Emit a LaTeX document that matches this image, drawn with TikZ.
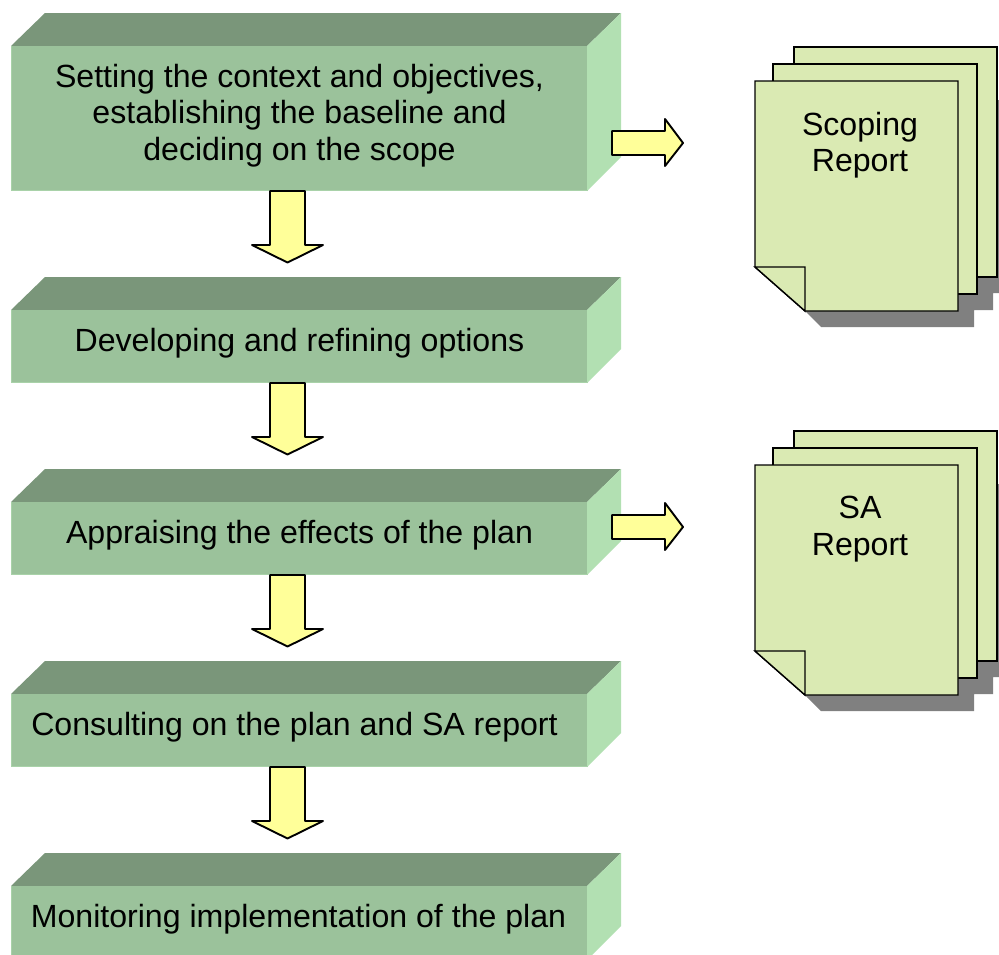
\documentclass[tikz,border=0pt]{standalone}
\usepackage{fontspec}
\setmainfont{Liberation Sans}
\definecolor{frontc}{HTML}{9BC29B}
\definecolor{topc}{HTML}{7A967A}
\definecolor{sidec}{HTML}{B2E0B2}
\definecolor{edgec}{HTML}{A9D2A9}
\definecolor{docc}{HTML}{DAEAB3}
\definecolor{arrowc}{HTML}{FFFF99}
\definecolor{shadowc}{HTML}{808080}
\tikzset{
  boxtext/.style={inner sep=0pt,align=center,font=\fontsize{32.1}{36.5}\selectfont,text=black},
  arrowshape/.style={draw=black,line width=1.9pt,fill=arrowc,line join=round},
  pageshape/.style={draw=black,line width=1.4pt,fill=docc},
  pageedge/.style={draw=black,line width=1.4pt},
  shadowshape/.style={fill=shadowc,draw=none},
  edgeline/.style={draw=edgec,line width=1.2pt},
}
\newcommand{\stepbox}[3]{% top y, bottom y, name
  \fill[topc] (11,#1+33) -- (45,#1) -- (621,#1) -- (587,#1+33) -- cycle;
  \fill[sidec] (587,#1+33) -- (621,#1) -- (621,#2-34) -- (587,#2) -- cycle;
  \fill[frontc] (11,#1+33) rectangle (587,#2);
  \draw[edgeline] (11.6,#1+33) -- (11.6,#2-.6) -- (587.6,#2-.6);
  \draw[edgeline,draw=sidec] (587.8,#1+33) -- (587.8,#2-.6);
  \coordinate (#3) at (299,{(#1+33+#2)/2});
}
\newcommand{\downarrowshape}[2]{% top y, name
  \draw[arrowshape] (270,#1) -- (305,#1) -- (305,#1+54) -- (323,#1+54) -- (287.5,#1+71.5) -- (252,#1+54) -- (270,#1+54) -- cycle;
  \coordinate (#2) at (287,#1+36);
}
\newcommand{\rightarrowshape}[2]{% centre y, name
  \draw[arrowshape] (612,#1-12) -- (665,#1-12) -- (665,#1-24) -- (683,#1) -- (665,#1+23) -- (665,#1+12) -- (612,#1+12) -- cycle;
  \coordinate (#2) at (647,#1);
}
\newcommand{\docstack}[2]{% y offset, name
  \fill[shadowshape] (805,#1+311) -- (821,#1+327) -- (974,#1+327) -- (974,#1+310) -- (993,#1+310) -- (993,#1+293) -- (1013,#1+293) -- (1013,#1+100) -- (900,#1+100) -- cycle;
  \fill[docc] (794,#1+47) -- (997,#1+47) -- (997,#1+277) -- (900,#1+277) -- (900,#1+100) -- (794,#1+100) -- cycle;
  \draw[pageedge] (794,#1+81) -- (794,#1+47) -- (997,#1+47) -- (997,#1+277) -- (958,#1+277);
  \fill[docc] (773,#1+64) -- (977,#1+64) -- (977,#1+294) -- (900,#1+294) -- (900,#1+100) -- (773,#1+100) -- cycle;
  \draw[pageedge] (773,#1+81) -- (773,#1+64) -- (977,#1+64) -- (977,#1+294) -- (958,#1+294);
  \draw[pageshape] (755,#1+81) -- (958,#1+81) -- (958,#1+311) -- (805,#1+311) -- (755,#1+267) -- cycle;
  \draw[pageshape] (755,#1+267) -- (805,#1+267) -- (805,#1+311) -- cycle;
  \coordinate (#2) at (859,#1+142);
}
\begin{document}
\begin{tikzpicture}[x=1pt,y=-1pt]
\useasboundingbox (0,0) rectangle (999,954);
\clip (0,0) rectangle (999,954);
\fill[white] (0,0) rectangle (999,954);
\stepbox{13}{191}{b1}
\stepbox{277}{383}{b2}
\stepbox{469}{575}{b3}
\stepbox{661}{767}{b4}
\stepbox{853}{960}{b5}
\docstack{0}{d1}
\docstack{384}{d2}
\downarrowshape{191}{a1}
\downarrowshape{383}{a2}
\downarrowshape{575}{a3}
\downarrowshape{767}{a4}
\rightarrowshape{143}{r1}
\rightarrowshape{527}{r2}
\node[boxtext] (t1) at (299.5,115.5) {Setting the context and objectives,\\establishing the baseline and\\deciding on the scope};
\node[boxtext] (t2) at (299.5,343) {Developing and refining options};
\node[boxtext] (t3) at (299.5,535.5) {Appraising the effects of the plan};
\node[boxtext] (t4) at (294.5,727.5) {Consulting on the plan and SA report};
\node[boxtext] (t5) at (298.5,919.5) {Monitoring implementation of the plan};
\node[boxtext] (t6) at (860,145) {Scoping\\Report};
\node[boxtext] (t7) at (860,529) {SA\\Report};
\end{tikzpicture}
\end{document}
